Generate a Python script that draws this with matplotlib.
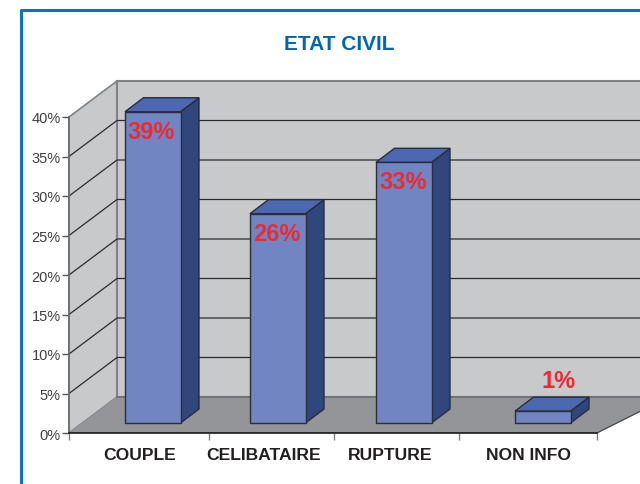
import matplotlib
matplotlib.use('Agg')
import matplotlib.pyplot as plt
from matplotlib.lines import Line2D
from matplotlib.patches import Polygon

plt.rcParams['font.family'] = ['Liberation Sans', 'DejaVu Sans']

categories = ['COUPLE', 'CELIBATAIRE', 'RUPTURE', 'NON INFO']
values = [39.4, 26.5, 33.0, 1.5]   # hauteurs
labels = ['39%', '26%', '33%', '1%']
y_ticks = [0, 5, 10, 15, 20, 25, 30, 35, 40]

# mise en page (pixels de l'image)
W, H = 640, 485
left, right, bottom, top = 69, 597, 434, 118
px_per_pct = (bottom - top) / 40
wall_dx, wall_dy = 48, 36 / px_per_pct   # profondeur du mur
bar_dx, bar_dy = 18.5, 14 / px_per_pct   # profondeur des barres
base_dy = 10 / px_per_pct                # decalage du pied des barres
bar_w = 55.5
bar_left = [56, 181, 307, 446]           # depuis le bord gauche de l'axe
tick_pos = [0, 140, 265, 390, 528]
label_x = [82, 208, 334, 490]            # centres des etiquettes rouges
text_x = [71, 195, 321, 459]             # centres des categories

fig = plt.figure(figsize=(W / 100, H / 100), dpi=100)
ax = fig.add_axes([left / W, 1 - bottom / H, (right - left) / W, (bottom - top) / H])
ax.set_xlim(0, right - left)
ax.set_ylim(0, 40)
ax.patch.set_alpha(0)
for s in ['top', 'right']:
    ax.spines[s].set_visible(False)

wall = '#c8c9cb'
floor = '#939598'
edge = '#808285'
grid = '#2b2b2b'

# murs et sol
ax.add_patch(Polygon([(0, 0), (wall_dx, wall_dy), (wall_dx, 40 + wall_dy), (0, 40)],
                     fc=wall, ec=edge, lw=1.2, clip_on=False, zorder=1))
ax.add_patch(Polygon([(wall_dx, wall_dy), (600, wall_dy), (600, 40 + wall_dy), (wall_dx, 40 + wall_dy)],
                     fc=wall, ec=edge, lw=1.5, clip_on=False, zorder=1))
ax.add_patch(Polygon([(0, 0), (wall_dx, wall_dy), (600, wall_dy), (528, 0)],
                     fc=floor, ec='none', clip_on=False, zorder=1))
ax.plot([wall_dx, 600], [wall_dy, wall_dy], color='#6d6e71', lw=1.2, clip_on=False, zorder=1.5)
ax.plot([528, 600], [0, wall_dy], color='#3a3a3a', lw=0.8, clip_on=False, zorder=1.5)

# grille
for t in y_ticks[1:-1]:
    ax.plot([0, wall_dx, 600], [t, t + wall_dy, t + wall_dy], color=grid, lw=0.9,
            clip_on=False, zorder=2)

# barres
for i in range(len(values)):
    x0 = bar_left[i]
    x1 = x0 + bar_w
    y0 = base_dy
    y1 = values[i] + base_dy
    ec = '#2a2d3a'
    ax.add_patch(Polygon([(x1, y0), (x1 + bar_dx, y0 + bar_dy), (x1 + bar_dx, y1 + bar_dy), (x1, y1)],
                         fc='#30467c', ec=ec, lw=1, clip_on=False, zorder=3))
    ax.add_patch(Polygon([(x0, y1), (x1, y1), (x1 + bar_dx, y1 + bar_dy), (x0 + bar_dx, y1 + bar_dy)],
                         fc='#4c68b0', ec=ec, lw=1, clip_on=False, zorder=3))
    ax.add_patch(Polygon([(x0, y0), (x1, y0), (x1, y1), (x0, y1)],
                         fc='#7185c3', ec=ec, lw=1, clip_on=False, zorder=4))
    if values[i] > 5:
        ly = y1 - 19.5 / px_per_pct
    else:
        ly = y1 + bar_dy + 17 / px_per_pct
    ax.text(label_x[i], ly, labels[i], color='#ed2a32', fontsize=17, fontweight='bold',
            ha='center', va='center', zorder=5)

# axes
ax.set_yticks(y_ticks)
ax.set_yticklabels([str(t) + '%' for t in y_ticks], fontsize=10.5, color='#414042')
ax.set_xticks(tick_pos)
ax.set_xticklabels([])
ax.tick_params(axis='y', length=5, width=1, color='#58595b', pad=1)
ax.tick_params(axis='x', length=5, width=1, color='#808285')
ax.spines['left'].set_color('#6d6e71')
ax.spines['left'].set_linewidth(1.2)
ax.spines['bottom'].set_color('#1a1a1a')
ax.spines['bottom'].set_linewidth(1.2)
ax.spines['bottom'].set_zorder(6)

for i in range(len(categories)):
    ax.text(text_x[i], -2.7, categories[i], fontsize=12.6, fontweight='bold', color='#231f20',
            ha='center', va='center', clip_on=False)

fig.text(339 / W, 1 - 44.5 / H, 'ETAT CIVIL', color='#0066b3', fontsize=15, fontweight='bold',
         ha='center', va='center')

# cadre bleu
fig.add_artist(Line2D([21 / W, 21 / W, 1], [0, 1 - 10.5 / H, 1 - 10.5 / H], color='#0f72ba', lw=2.2))

fig.savefig('out.png', dpi=100)
